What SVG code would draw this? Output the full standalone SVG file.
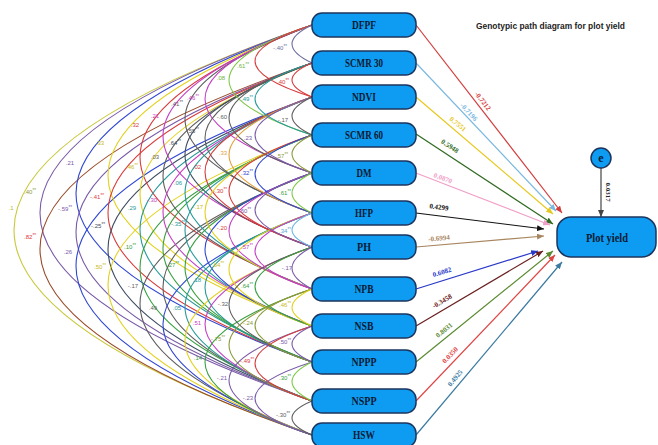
<svg xmlns="http://www.w3.org/2000/svg" width="658" height="445" viewBox="0 0 658 445">
<style>
.a{fill:none;stroke-width:1.1}
.p{fill:none;stroke-width:1.2}
.nd{fill:#0d9cf2;stroke:#1c355e;stroke-width:1.5}
.nt{font-family:"Liberation Serif",serif;font-weight:bold;font-size:12px;fill:#0b1a33;text-anchor:middle}
.pl{font-family:"Liberation Serif",serif;font-weight:bold;font-size:7px;text-anchor:middle}
.al{font-family:"Liberation Sans",sans-serif;font-size:6px;text-anchor:middle}
.s{font-size:4.5px}
.sY{stroke:#c8c83c}.fY{fill:#b8b830}
.sYE{stroke:#e2d11c}.fYE{fill:#c9b818}
.sP{stroke:#7a5aa8}.fP{fill:#7a5aa8}
.sP2{stroke:#6e6e9e}.fP2{fill:#6e6e9e}
.sB{stroke:#2f46d2}.fB{fill:#2f46d2}
.sR{stroke:#d83a3a}.fR{fill:#d83a3a}
.sG{stroke:#38a040}.fG{fill:#38a040}
.sLG{stroke:#80c848}.fLG{fill:#6cb43a}
.sM{stroke:#c43ec4}.fM{fill:#c43ec4}
.sT{stroke:#279a9a}.fT{fill:#279a9a}
.sGR{stroke:#5e5e5e}.fGR{fill:#5e5e5e}
.sBR{stroke:#9a4a2a}.fBR{fill:#9a4a2a}
.sLB{stroke:#6cb6e4}.fLB{fill:#5aa6d6}
.sO{stroke:#e3a03c}.fO{fill:#e3a03c}
.sDS{stroke:#3c4c60}.fDS{fill:#3c4c60}
.sOL{stroke:#8c9a3a}.fOL{fill:#8c9a3a}
</style>
<defs>
<marker id="m0" markerUnits="userSpaceOnUse" markerWidth="7" markerHeight="6" refX="7" refY="3" orient="auto"><path d="M0,0L7,3L0,6z" fill="#d23c3c"/></marker>
<marker id="m1" markerUnits="userSpaceOnUse" markerWidth="7" markerHeight="6" refX="7" refY="3" orient="auto"><path d="M0,0L7,3L0,6z" fill="#7ab8e0"/></marker>
<marker id="m2" markerUnits="userSpaceOnUse" markerWidth="7" markerHeight="6" refX="7" refY="3" orient="auto"><path d="M0,0L7,3L0,6z" fill="#e6c81e"/></marker>
<marker id="m3" markerUnits="userSpaceOnUse" markerWidth="7" markerHeight="6" refX="7" refY="3" orient="auto"><path d="M0,0L7,3L0,6z" fill="#2e6a20"/></marker>
<marker id="m4" markerUnits="userSpaceOnUse" markerWidth="7" markerHeight="6" refX="7" refY="3" orient="auto"><path d="M0,0L7,3L0,6z" fill="#f0a0c8"/></marker>
<marker id="m5" markerUnits="userSpaceOnUse" markerWidth="7" markerHeight="6" refX="7" refY="3" orient="auto"><path d="M0,0L7,3L0,6z" fill="#111111"/></marker>
<marker id="m6" markerUnits="userSpaceOnUse" markerWidth="7" markerHeight="6" refX="7" refY="3" orient="auto"><path d="M0,0L7,3L0,6z" fill="#a88660"/></marker>
<marker id="m7" markerUnits="userSpaceOnUse" markerWidth="7" markerHeight="6" refX="7" refY="3" orient="auto"><path d="M0,0L7,3L0,6z" fill="#2838c8"/></marker>
<marker id="m8" markerUnits="userSpaceOnUse" markerWidth="7" markerHeight="6" refX="7" refY="3" orient="auto"><path d="M0,0L7,3L0,6z" fill="#6a2020"/></marker>
<marker id="m9" markerUnits="userSpaceOnUse" markerWidth="7" markerHeight="6" refX="7" refY="3" orient="auto"><path d="M0,0L7,3L0,6z" fill="#5a8a30"/></marker>
<marker id="m10" markerUnits="userSpaceOnUse" markerWidth="7" markerHeight="6" refX="7" refY="3" orient="auto"><path d="M0,0L7,3L0,6z" fill="#e04444"/></marker>
<marker id="m11" markerUnits="userSpaceOnUse" markerWidth="7" markerHeight="6" refX="7" refY="3" orient="auto"><path d="M0,0L7,3L0,6z" fill="#3a7aa0"/></marker>
<marker id="me" markerUnits="userSpaceOnUse" markerWidth="7" markerHeight="6" refX="7" refY="3" orient="auto"><path d="M0,0L7,3L0,6z" fill="#444444"/></marker>
</defs>
<rect width="658" height="445" fill="#ffffff"/>
<g id="correlations">
<path class="a sY" d="M312,25Q-284,230 312,435"/>
<path class="a sP" d="M312,25Q-232,213 312,401"/>
<path class="a sBR" d="M312,63Q-232,249 312,435"/>
<path class="a sB" d="M312,25Q-160,193.5 312,362"/>
<path class="a sP" d="M312,63Q-160,232 312,401"/>
<path class="a sB" d="M312,97Q-160,266 312,435"/>
<path class="a sYE" d="M312,25Q-96,175.5 312,326"/>
<path class="a sR" d="M312,63Q-96,212.5 312,362"/>
<path class="a sDS" d="M312,97Q-96,249 312,401"/>
<path class="a sYE" d="M312,135Q-96,285 312,435"/>
<path class="a sR" d="M312,25Q-32,157 312,289"/>
<path class="a sYE" d="M312,63Q-32,194.5 312,326"/>
<path class="a sT" d="M312,97Q-32,229.5 312,362"/>
<path class="a sG" d="M312,135Q-32,268 312,401"/>
<path class="a sGR" d="M312,173Q-32,304 312,435"/>
<path class="a sM" d="M312,25Q14,136 312,247"/>
<path class="a sGR" d="M312,63Q14,176 312,289"/>
<path class="a sM" d="M312,97Q14,211.5 312,326"/>
<path class="a sG" d="M312,135Q14,248.5 312,362"/>
<path class="a sGR" d="M312,173Q14,287 312,401"/>
<path class="a sB" d="M312,213Q14,324 312,435"/>
<path class="a sGR" d="M312,25Q58,119 312,213"/>
<path class="a sDS" d="M312,63Q58,155 312,247"/>
<path class="a sT" d="M312,97Q58,193 312,289"/>
<path class="a sT" d="M312,135Q58,230.5 312,326"/>
<path class="a sG" d="M312,173Q58,267.5 312,362"/>
<path class="a sT" d="M312,213Q58,307 312,401"/>
<path class="a sYE" d="M312,247Q58,341 312,435"/>
<path class="a sM" d="M312,25Q98,99 312,173"/>
<path class="a sGR" d="M312,63Q98,138 312,213"/>
<path class="a sR" d="M312,97Q98,172 312,247"/>
<path class="a sYE" d="M312,135Q98,212 312,289"/>
<path class="a sB" d="M312,173Q98,249.5 312,326"/>
<path class="a sT" d="M312,213Q98,287.5 312,362"/>
<path class="a sM" d="M312,247Q98,324 312,401"/>
<path class="a sG" d="M312,289Q98,362 312,435"/>
<path class="a sLG" d="M312,25Q146,80 312,135"/>
<path class="a sGR" d="M312,63Q146,118 312,173"/>
<path class="a sO" d="M312,97Q146,155 312,213"/>
<path class="a sR" d="M312,135Q146,191 312,247"/>
<path class="a sM" d="M312,173Q146,231 312,289"/>
<path class="a sYE" d="M312,213Q146,269.5 312,326"/>
<path class="a sGR" d="M312,247Q146,304.5 312,362"/>
<path class="a sOL" d="M312,289Q146,345 312,401"/>
<path class="a sP" d="M312,326Q146,380.5 312,435"/>
<path class="a sR" d="M312,25Q198,61 312,97"/>
<path class="a sT" d="M312,63Q198,99 312,135"/>
<path class="a sP" d="M312,97Q198,135 312,173"/>
<path class="a sB" d="M312,135Q198,174 312,213"/>
<path class="a sP" d="M312,173Q198,210 312,247"/>
<path class="a sM" d="M312,213Q198,251 312,289"/>
<path class="a sG" d="M312,247Q198,286.5 312,326"/>
<path class="a sOL" d="M312,289Q198,325.5 312,362"/>
<path class="a sR" d="M312,326Q198,363.5 312,401"/>
<path class="a sP" d="M312,362Q198,398.5 312,435"/>
<path class="a sP2" d="M312,25Q272,44 312,63"/>
<path class="a sR" d="M312,63Q272,80 312,97"/>
<path class="a sGR" d="M312,97Q272,116 312,135"/>
<path class="a sOL" d="M312,135Q272,154 312,173"/>
<path class="a sLG" d="M312,173Q272,193 312,213"/>
<path class="a sLB" d="M312,213Q272,230 312,247"/>
<path class="a sP" d="M312,247Q272,268 312,289"/>
<path class="a sYE" d="M312,289Q272,307.5 312,326"/>
<path class="a sP" d="M312,326Q272,344 312,362"/>
<path class="a sLG" d="M312,362Q272,381.5 312,401"/>
<path class="a sGR" d="M312,401Q272,418 312,435"/>
</g>
<g id="correlation-labels">
<text class="al fP2" x="280" y="50">-.40<tspan class="s" dy="-2">**</tspan></text>
<text class="al fR" x="283" y="84">.40<tspan class="s" dy="-2">**</tspan></text>
<text class="al fGR" x="283" y="122">-.17</text>
<text class="al fOL" x="282" y="158">.57<tspan class="s" dy="-2">**</tspan></text>
<text class="al fG" x="285" y="195">.61<tspan class="s" dy="-2">**</tspan></text>
<text class="al fLB" x="285" y="233">.34<tspan class="s" dy="-2">**</tspan></text>
<text class="al fP" x="287" y="270">-.17</text>
<text class="al fYE" x="285" y="307">.46<tspan class="s" dy="-2">**</tspan></text>
<text class="al fP" x="285" y="344">.50<tspan class="s" dy="-2">**</tspan></text>
<text class="al fG" x="285" y="380">.30<tspan class="s" dy="-2">**</tspan></text>
<text class="al fGR" x="283" y="417">-.30<tspan class="s" dy="-2">**</tspan></text>
<text class="al fLG" x="243" y="68">.61<tspan class="s" dy="-2">**</tspan></text>
<text class="al fT" x="247" y="101">.49<tspan class="s" dy="-2">**</tspan></text>
<text class="al fP" x="248" y="140">.23</text>
<text class="al fB" x="247" y="175">.32<tspan class="s" dy="-2">**</tspan></text>
<text class="al fP" x="245" y="213">.60<tspan class="s" dy="-2">**</tspan></text>
<text class="al fM" x="247" y="249">.57<tspan class="s" dy="-2">**</tspan></text>
<text class="al fG" x="247" y="288">.64<tspan class="s" dy="-2">**</tspan></text>
<text class="al fOL" x="248" y="325">-.24</text>
<text class="al fR" x="247" y="363">-.49<tspan class="s" dy="-2">**</tspan></text>
<text class="al fP" x="248" y="400">-.23</text>
<text class="al fLG" x="221" y="80">.08</text>
<text class="al fGR" x="222" y="119">-.60</text>
<text class="al fO" x="223" y="155">.33</text>
<text class="al fR" x="220" y="193">-.30<tspan class="s" dy="-2">**</tspan></text>
<text class="al fR" x="222" y="230">-.20</text>
<text class="al fYE" x="218" y="267">.64<tspan class="s" dy="-2">**</tspan></text>
<text class="al fGR" x="223" y="306">-.32</text>
<text class="al fOL" x="218" y="341">-.75<tspan class="s" dy="-2">**</tspan></text>
<text class="al fP" x="222" y="380">-.21</text>
<text class="al fM" x="193" y="100">.46<tspan class="s" dy="-2">**</tspan></text>
<text class="al fGR" x="193" y="133">.55<tspan class="s" dy="-2">**</tspan></text>
<text class="al fR" x="197" y="169">.02</text>
<text class="al fYE" x="198" y="209">-.17</text>
<text class="al fT" x="197" y="282">.18</text>
<text class="al fM" x="197" y="325">.51</text>
<text class="al fG" x="198" y="360">.14</text>
<text class="al fGR" x="177" y="106">.41<tspan class="s" dy="-2">**</tspan></text>
<text class="al fDS" x="175" y="145">.64<tspan class="s" dy="-2">**</tspan></text>
<text class="al fT" x="178" y="185">.06</text>
<text class="al fT" x="178" y="226">-.35<tspan class="s" dy="-2">**</tspan></text>
<text class="al fG" x="173" y="267">.27<tspan class="s" dy="-2">**</tspan></text>
<text class="al fT" x="177" y="310">.05</text>
<text class="al fM" x="155" y="118">.21</text>
<text class="al fGR" x="155" y="159">.03</text>
<text class="al fM" x="152" y="202">-.30</text>
<text class="al fGR" x="153" y="310">.49</text>
<text class="al fR" x="135" y="127">.32</text>
<text class="al fYE" x="132" y="169">.46<tspan class="s" dy="-2">**</tspan></text>
<text class="al fT" x="132" y="210">.29</text>
<text class="al fG" x="130" y="249">.10<tspan class="s" dy="-2">**</tspan></text>
<text class="al fGR" x="133" y="288">-.17</text>
<text class="al fYE" x="100" y="145">.33</text>
<text class="al fR" x="97" y="199">-.41<tspan class="s" dy="-2">**</tspan></text>
<text class="al fDS" x="98" y="228">-.25<tspan class="s" dy="-2">**</tspan></text>
<text class="al fYE" x="100" y="269">.50<tspan class="s" dy="-2">**</tspan></text>
<text class="al fP" x="70" y="165">.21</text>
<text class="al fP" x="65" y="211">-.59<tspan class="s" dy="-2">**</tspan></text>
<text class="al fP" x="68" y="254">.26</text>
<text class="al fOL" x="30" y="194">.40<tspan class="s" dy="-2">**</tspan></text>
<text class="al fR" x="30" y="239">.82<tspan class="s" dy="-2">**</tspan></text>
<text class="al fY" x="11" y="210">.1</text>
</g>
<g id="paths">
<path class="p" stroke="#d23c3c" marker-end="url(#m0)" d="M416,25L562,213"/>
<path class="p" stroke="#7ab8e0" marker-end="url(#m1)" d="M416,63L556,211"/>
<path class="p" stroke="#e6c81e" marker-end="url(#m2)" d="M416,97L553,214"/>
<path class="p" stroke="#2e6a20" marker-end="url(#m3)" d="M416,134L553,224"/>
<path class="p" stroke="#f0a0c8" marker-end="url(#m4)" d="M416,173L550,225"/>
<path class="p" stroke="#111111" marker-end="url(#m5)" d="M416,213L544,229"/>
<path class="p" stroke="#a88660" marker-end="url(#m6)" d="M416,247L544,236"/>
<path class="p" stroke="#2838c8" marker-end="url(#m7)" d="M416,289L538,251"/>
<path class="p" stroke="#6a2020" marker-end="url(#m8)" d="M416,326L543,251"/>
<path class="p" stroke="#5a8a30" marker-end="url(#m9)" d="M416,362L553,251"/>
<path class="p" stroke="#e04444" marker-end="url(#m10)" d="M416,401L555,255"/>
<path class="p" stroke="#3a7aa0" marker-end="url(#m11)" d="M416,435L562,262"/>
<path class="p" stroke="#444444" marker-end="url(#me)" d="M601,168L601,217"/>
</g>
<g id="path-labels">
<text class="pl" fill="#d23c3c" transform="translate(483,101) rotate(52)" y="2.5">-0.7212</text>
<text class="pl" fill="#7ab8e0" transform="translate(469,112) rotate(47)" y="2.5">-0.7196</text>
<text class="pl" fill="#e6c81e" transform="translate(458,124) rotate(40)" y="2.5">0.7551</text>
<text class="pl" fill="#2e6a20" transform="translate(450,146) rotate(33)" y="2.5">0.5948</text>
<text class="pl" fill="#f0a0c8" transform="translate(443,178) rotate(21)" y="2.5">0.0870</text>
<text class="pl" fill="#111111" transform="translate(439,207) rotate(7)" y="2.5">0.4299</text>
<text class="pl" fill="#a88660" transform="translate(439,238) rotate(-5)" y="2.5">-0.6994</text>
<text class="pl" fill="#2838c8" transform="translate(442,272) rotate(-17)" y="2.5">0.6082</text>
<text class="pl" fill="#6a2020" transform="translate(442,301) rotate(-30)" y="2.5">-0.3458</text>
<text class="pl" fill="#5a8a30" transform="translate(444,330) rotate(-39)" y="2.5">0.8031</text>
<text class="pl" fill="#e04444" transform="translate(450,355) rotate(-46)" y="2.5">0.0350</text>
<text class="pl" fill="#3a7aa0" transform="translate(455,378) rotate(-50)" y="2.5">0.4925</text>
<text class="pl" fill="#222222" transform="translate(608,192) rotate(90)" y="2.5">0.0317</text>
</g>
<g id="node-DFPF"><rect class="nd" x="312" y="13" width="104" height="24" rx="10"/><text class="nt" x="364" y="29" textLength="24" lengthAdjust="spacingAndGlyphs">DFPF</text></g>
<g id="node-SCMR30"><rect class="nd" x="312" y="51" width="104" height="24" rx="10"/><text class="nt" x="364" y="67" textLength="38" lengthAdjust="spacingAndGlyphs">SCMR 30</text></g>
<g id="node-NDVI"><rect class="nd" x="312" y="85" width="104" height="24" rx="10"/><text class="nt" x="364" y="101" textLength="24" lengthAdjust="spacingAndGlyphs">NDVI</text></g>
<g id="node-SCMR60"><rect class="nd" x="312" y="123" width="104" height="24" rx="10"/><text class="nt" x="364" y="139" textLength="38" lengthAdjust="spacingAndGlyphs">SCMR 60</text></g>
<g id="node-DM"><rect class="nd" x="312" y="161" width="104" height="24" rx="10"/><text class="nt" x="364" y="177" textLength="15" lengthAdjust="spacingAndGlyphs">DM</text></g>
<g id="node-HFP"><rect class="nd" x="312" y="201" width="104" height="24" rx="10"/><text class="nt" x="364" y="217" textLength="18" lengthAdjust="spacingAndGlyphs">HFP</text></g>
<g id="node-PH"><rect class="nd" x="312" y="235" width="104" height="24" rx="10"/><text class="nt" x="364" y="251" textLength="14" lengthAdjust="spacingAndGlyphs">PH</text></g>
<g id="node-NPB"><rect class="nd" x="312" y="277" width="104" height="24" rx="10"/><text class="nt" x="364" y="293" textLength="19" lengthAdjust="spacingAndGlyphs">NPB</text></g>
<g id="node-NSB"><rect class="nd" x="312" y="314" width="104" height="24" rx="10"/><text class="nt" x="364" y="330" textLength="19" lengthAdjust="spacingAndGlyphs">NSB</text></g>
<g id="node-NPPP"><rect class="nd" x="312" y="350" width="104" height="24" rx="10"/><text class="nt" x="364" y="366" textLength="25" lengthAdjust="spacingAndGlyphs">NPPP</text></g>
<g id="node-NSPP"><rect class="nd" x="312" y="389" width="104" height="24" rx="10"/><text class="nt" x="364" y="405" textLength="25" lengthAdjust="spacingAndGlyphs">NSPP</text></g>
<g id="node-HSW"><rect class="nd" x="312" y="423" width="104" height="24" rx="10"/><text class="nt" x="364" y="439" textLength="22" lengthAdjust="spacingAndGlyphs">HSW</text></g>
<g id="node-PlotYield"><rect class="nd" x="557" y="217" width="99" height="40" rx="14"/><text class="nt" x="607" y="242" font-size="14" textLength="42" lengthAdjust="spacingAndGlyphs">Plot yield</text></g>
<g id="node-e"><circle class="nd" cx="601" cy="158" r="10"/><text class="nt" x="601" y="162" font-size="12" font-weight="normal">e</text></g>
<text x="476" y="29" font-family="Liberation Sans, sans-serif" font-size="9" font-weight="bold" fill="#222222" textLength="149" lengthAdjust="spacingAndGlyphs">Genotypic path diagram for plot yield</text>
</svg>
